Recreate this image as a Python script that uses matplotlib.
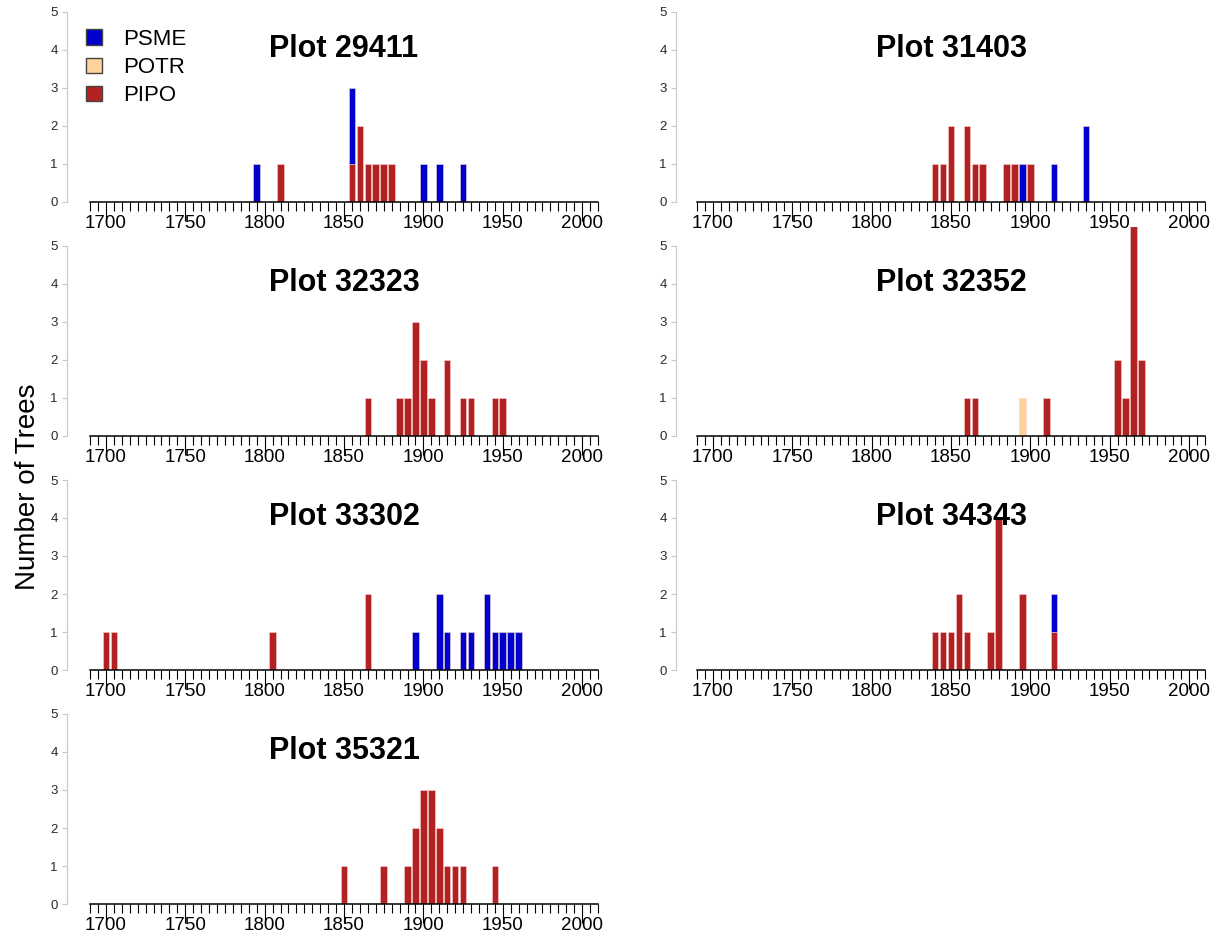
import matplotlib
matplotlib.use("Agg")
import matplotlib.pyplot as plt
from matplotlib.patches import Patch
from matplotlib.transforms import blended_transform_factory

plt.rcParams['font.family'] = ['Liberation Sans', 'DejaVu Sans']

# Data: establishment year (5-yr bins) and number of trees, per plot and species
plots = ["29411", "31403", "32323", "32352", "33302", "34343", "35321"]
stack_order = ["PIPO", "POTR", "PSME"]    # bottom -> top
legend_order = ["PSME", "POTR", "PIPO"]
colors = {"PSME": "#0000CD", "POTR": "#FFD39B", "PIPO": "#B22222"}

pipo_years = {
    "29411": [1810, 1855, 1860, 1865, 1870, 1875, 1880],
    "31403": [1840, 1845, 1850, 1860, 1865, 1870, 1885, 1890, 1900],
    "32323": [1865, 1885, 1890, 1895, 1900, 1905, 1915, 1925, 1930, 1945, 1950],
    "32352": [1860, 1865, 1910, 1955, 1960, 1965, 1970],
    "33302": [1700, 1705, 1805, 1865],
    "34343": [1840, 1845, 1850, 1855, 1860, 1875, 1880, 1895, 1915],
    "35321": [1850, 1875, 1890, 1895, 1900, 1905, 1910, 1915, 1920, 1925, 1945],
}
pipo_counts = {
    "29411": [1, 1, 2, 1, 1, 1, 1],
    "31403": [1, 1, 2, 2, 1, 1, 1, 1, 1],
    "32323": [1, 1, 1, 3, 2, 1, 2, 1, 1, 1, 1],
    "32352": [1, 1, 1, 2, 1, 6, 2],
    "33302": [1, 1, 1, 2],
    "34343": [1, 1, 1, 2, 1, 1, 4, 2, 1],
    "35321": [1, 1, 1, 2, 3, 3, 2, 1, 1, 1, 1],
}
potr_years = {"32352": [1895]}
potr_counts = {"32352": [1]}
psme_years = {
    "29411": [1795, 1855, 1900, 1910, 1925],
    "31403": [1895, 1915, 1935],
    "33302": [1895, 1910, 1915, 1925, 1930, 1940, 1945, 1950, 1955, 1960],
    "34343": [1915],
}
psme_counts = {
    "29411": [1, 2, 1, 1, 1],
    "31403": [1, 1, 2],
    "33302": [1, 2, 1, 1, 1, 2, 1, 1, 1, 1],
    "34343": [1],
}
years_by_sp = {"PIPO": pipo_years, "POTR": potr_years, "PSME": psme_years}
counts_by_sp = {"PIPO": pipo_counts, "POTR": potr_counts, "PSME": psme_counts}

W, H = 1220, 938
fig = plt.figure(figsize=(W / 100, H / 100), dpi=100)

col_left = [90, 697]
col_spine_off = [23, 21]
row_zero = [202, 436, 670, 904]
ax_w = 508
unit = 38
ytop = 5.5

for i, pid in enumerate(plots):
    r, c = divmod(i, 2)
    ax = fig.add_axes([col_left[c] / W, (H - row_zero[r]) / H,
                       ax_w / W, ytop * unit / H])
    ax.patch.set_visible(False)

    base = {}
    for sp in stack_order:
        yrs = years_by_sp[sp].get(pid, [])
        cnt = counts_by_sp[sp].get(pid, [])
        if not yrs:
            continue
        bottoms = [base.get(y, 0) for y in yrs]
        ax.bar(yrs, cnt, width=4.1, bottom=bottoms, color=colors[sp],
               edgecolor="#f4d0d0", linewidth=0.4, label=sp)
        for y, n in zip(yrs, cnt):
            base[y] = base.get(y, 0) + n

    ax.set_xlim(1690, 2010)
    ax.set_ylim(0, ytop)

    for s in ["top", "right"]:
        ax.spines[s].set_visible(False)
    ax.spines["bottom"].set_bounds(1690, 2010)
    ax.spines["bottom"].set_linewidth(1.1)
    ax.spines["left"].set_position(("outward", col_spine_off[c] * 0.72))
    ax.spines["left"].set_bounds(0, 5)
    ax.spines["left"].set_color("#c8c8c8")

    ax.set_yticks(range(0, 6))
    ax.tick_params(axis="y", length=3.6, width=0.8, color="#c8c8c8",
                   labelcolor="#2a2a2a", labelsize=9.5, pad=3)
    ax.set_xticks(range(1700, 2001, 50))
    ax.set_xticks(range(1690, 2011, 5), minor=True)
    ax.tick_params(axis="x", which="major", length=14, width=0.8,
                   pad=-5, labelsize=13.5)
    ax.tick_params(axis="x", which="minor", length=6.5, width=0.8)

    tr = blended_transform_factory(ax.transAxes, ax.transData)
    ax.text(0.5, 3.82, f"Plot {pid}", transform=tr, ha="center",
            va="baseline", fontsize=22, fontweight="bold")

    if i == 0:
        handles = [Patch(facecolor=colors[sp], edgecolor="#444444",
                         linewidth=1.0) for sp in legend_order]
        ax.legend(handles, legend_order, loc="upper left",
                  bbox_to_anchor=(86 / W, 1 - 29 / H),
                  bbox_transform=fig.transFigure, frameon=False,
                  fontsize=16, handlelength=0.72, handleheight=0.7,
                  handletextpad=0.95, labelspacing=0.32, borderpad=0,
                  borderaxespad=0)

fig.text(28 / W, 1 - 487 / H, "Number of Trees", rotation=90,
         ha="center", va="center", fontsize=20)

fig.savefig("out.png", dpi=100)
